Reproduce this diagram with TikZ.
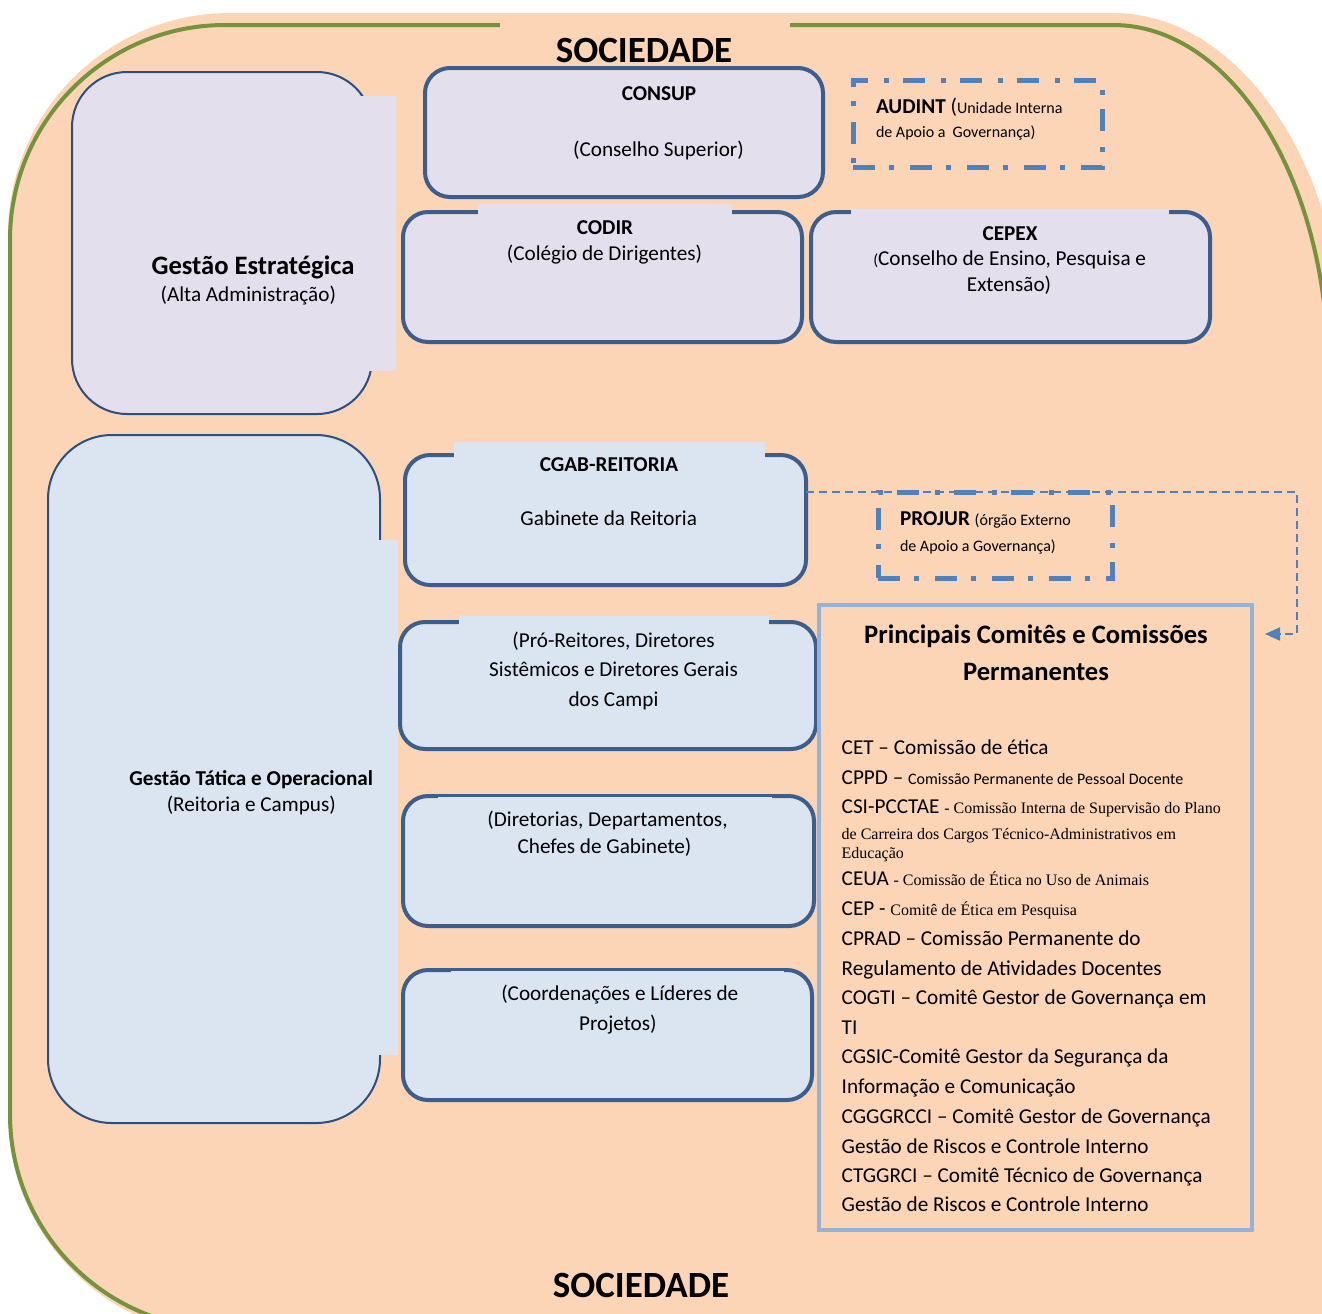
\documentclass[tikz,border=0pt]{standalone}
\usepackage{fontspec}
\setmainfont{Carlito}
\newfontfamily\timesfont{Liberation Serif}
\usetikzlibrary{arrows.meta}

\definecolor{socorange}{HTML}{FBD5B5}
\definecolor{socgreen}{HTML}{76923C}
\definecolor{stratfill}{HTML}{E4DFEC}
\definecolor{opfill}{HTML}{DBE5F1}
\definecolor{thinline}{HTML}{2A4F80}
\definecolor{boxline}{HTML}{3B5E8C}
\definecolor{dashblue}{HTML}{4F81BD}
\definecolor{comline}{HTML}{95B3D7}

\newcommand{\smtxt}[1]{{\fontsize{8}{9.6}\selectfont #1}}
\newcommand{\tmtxt}[1]{{\timesfont\fontsize{8}{9.6}\selectfont #1}}

\begin{document}
\begin{tikzpicture}[x=0.5pt,y=-0.5pt,
  every node/.style={inner sep=0pt,outer sep=0pt,font=\fontsize{10.6}{12.7}\selectfont},
  stratbox/.style={rectangle,draw=thinline,line width=1pt,fill=stratfill,rounded corners=27.5pt},
  opbox/.style={rectangle,draw=thinline,line width=1pt,fill=opfill,rounded corners=32pt},
  govbox/.style={rectangle,draw=boxline,line width=2pt,rounded corners=12.5pt},
  supportbox/.style={rectangle,draw=dashblue,line width=2.5pt,dash pattern=on 11pt off 7pt on 2.5pt off 8pt},
  comitebox/.style={rectangle,draw=comline,line width=2pt},
  boxtitle/.style={anchor=base,font=\fontsize{10.6}{12.7}\selectfont\bfseries},
  boxtext/.style={anchor=base},
  bigtitle/.style={anchor=base,font=\fontsize{13.3}{16}\selectfont\bfseries},
  soctitle/.style={anchor=base,font=\fontsize{18.5}{22}\selectfont\bfseries},
  listitem/.style={anchor=base west},
  linkline/.style={draw=dashblue,line width=1pt,dash pattern=on 4pt off 2.5pt,-{Triangle[length=7.5pt,width=6.5pt]}}]
  \useasboundingbox (0,0) rectangle (1322,1313);
  \clip (0,0) rectangle (1322,1313);
  % sociedade
  \fill[socorange] (1345,1345) -- (1345,360) arc[start angle=0,end angle=90,x radius=116pt,y radius=173.5pt]
    -- (230,13) arc[start angle=90,end angle=180,radius=111pt]
    -- (8,1114) arc[start angle=180,end angle=270,radius=111pt] -- cycle;
  \draw[socgreen,line width=2pt] (1328,1400) -- (1328,370) arc[start angle=0,end angle=90,x radius=107.5pt,y radius=172.5pt]
    -- (225,25) arc[start angle=90,end angle=180,radius=107.5pt]
    -- (10,1114) arc[start angle=180,end angle=270,radius=107.5pt] -- (1400,1329);
  \fill[socorange] (500,15) rectangle (790,66);
  \node[soctitle] (soctop) at (644,62) {SOCIEDADE};
  \node[soctitle] (socbottom) at (641,1297) {SOCIEDADE};

  % gestao estrategica
  \node[stratbox,minimum width=150pt,minimum height=171pt] (estrategica) at (222,243) {};
  \fill[stratfill] (90,96) rectangle (396,371);
  \node[bigtitle] (estrat1) at (253,274.3) {Gestão Estratégica};
  \node[boxtext] (estrat2) at (248.3,301.7) {(Alta Administração)};

  \node[govbox,fill=stratfill,minimum width=199pt,minimum height=64.5pt] (consup) at (624,132.5) {};
  \fill[stratfill] (520,70.5) rectangle (797,185);
  \node[boxtitle] (consup1) at (659,100) {CONSUP};
  \node[boxtext] (consup2) at (658.5,156.7) {(Conselho Superior)};

  \node[govbox,fill=stratfill,minimum width=199.5pt,minimum height=65pt] (codir) at (602.5,277) {};
  \fill[stratfill] (478,204) rectangle (732,330);
  \node[boxtitle] (codir1) at (605,234) {CODIR};
  \node[boxtext] (codir2) at (604.5,260) {(Colégio de Dirigentes)};

  \node[govbox,fill=stratfill,minimum width=199.5pt,minimum height=65pt] (cepex) at (1010.5,277) {};
  \fill[stratfill] (851,209) rectangle (1169,330);
  \node[boxtitle] (cepex1) at (1010,240) {CEPEX};
  \node[boxtext] (cepex2) at (1009.7,265) {\smtxt{(}Conselho de Ensino, Pesquisa e};
  \node[boxtext] (cepex3) at (1009,291) {Extensão)};

  \node[supportbox,minimum width=124.5pt,minimum height=43.5pt] (audint) at (977.5,123.5) {};
  \node[listitem] (audint1) at (876,113.3) {\textbf{AUDINT} (\smtxt{Unidade Interna}};
  \node[listitem] (audint2) at (876,137.7) {\smtxt{de Apoio a~ Governança)}};

  % gestao tatica e operacional
  \node[opbox,minimum width=166pt,minimum height=344pt] (tatica) at (214,779) {};
  \fill[opfill] (60,540) rectangle (398,1055);
  \node[boxtitle] (tatica1) at (251.3,785) {Gestão Tática e Operacional};
  \node[boxtext] (tatica2) at (251.3,811.7) {(Reitoria e Campus)};

  \node[govbox,fill=opfill,minimum width=200.5pt,minimum height=65pt] (cgab) at (605.5,520) {};
  \fill[opfill] (454,442) rectangle (765,570);
  \node[boxtitle] (cgab1) at (609,471.7) {CGAB-REITORIA};
  \node[boxtext] (cgab2) at (608.7,525) {Gabinete da Reitoria};

  \node[govbox,fill=opfill,minimum width=208pt,minimum height=63.5pt] (proreit) at (608,685.5) {};
  \fill[opfill] (459,616) rectangle (769,735);
  \node[boxtext] (proreit1) at (613.5,647.3) {(Pró-Reitores, Diretores};
  \node[boxtext] (proreit2) at (613.5,676) {Sistêmicos e Diretores Gerais};
  \node[boxtext] (proreit3) at (613.5,706.7) {dos Campi};

  \node[govbox,fill=opfill,minimum width=205.5pt,minimum height=65pt] (diretorias) at (608.5,861) {};
  \fill[opfill] (438,797) rectangle (772,910);
  \node[boxtext] (diretorias1) at (607.5,826) {(Diretorias, Departamentos,};
  \node[boxtext] (diretorias2) at (604.5,853) {Chefes de Gabinete)};

  \node[govbox,fill=opfill,minimum width=204.5pt,minimum height=65pt] (coord) at (607.5,1035) {};
  \fill[opfill] (451,971) rectangle (784,1085);
  \node[boxtext] (coord1) at (619.8,1000.7) {(Coordenações e Líderes de};
  \node[boxtext] (coord2) at (617.8,1030.7) {Projetos)};

  \node[supportbox,minimum width=117pt,minimum height=43pt] (projur) at (995,535) {};
  \node[listitem] (projur1) at (900,525) {\textbf{PROJUR} \smtxt{(órgão Externo}};
  \node[listitem] (projur2) at (900,551) {\smtxt{de Apoio a Governança)}};

  % comites e comissoes
  \node[comitebox,minimum width=216.5pt,minimum height=312.5pt] (comites) at (1035.5,917.5) {};
  \node[bigtitle] (comites1) at (1036,643.3) {Principais Comitês e Comissões};
  \node[bigtitle] (comites2) at (1036,680) {Permanentes};
  \foreach \yb/\txt [count=\i] in {
    754.3/{CET – Comissão de ética},
    784/{CPPD – \smtxt{Comissão Permanente de Pessoal Docente}},
    813.3/{CSI-PCCTAE \tmtxt{- Comissão Interna de Supervisão do Plano}},
    839/{\tmtxt{de Carreira dos Cargos Técnico-Administrativos em}},
    858.3/{\tmtxt{Educação}},
    885.7/{CEUA \tmtxt{- Comissão de Ética no Uso de Animais}},
    915/{CEP - \tmtxt{Comitê de Ética em Pesquisa}},
    945/{CPRAD – Comissão Permanente do},
    975/{Regulamento de Atividades Docentes},
    1004.3/{COGTI – Comitê Gestor de Governança em},
    1034/{TI},
    1063.3/{CGSIC-Comitê Gestor da Segurança da},
    1093.3/{Informação e Comunicação},
    1123.3/{CGGGRCCI – Comitê Gestor de Governança},
    1153.3/{Gestão de Riscos e Controle Interno},
    1182.7/{CTGGRCI – Comitê Técnico de Governança},
    1211.7/{Gestão de Riscos e Controle Interno}}
    \node[listitem] (item\i) at (841.7,\yb) {\txt};

  \coordinate (turn) at (1297,634);
  \coordinate (tip) at (1265,634);
  \draw[linkline] (cgab.east |- projur.north) -| (turn) -- (tip);
\end{tikzpicture}
\end{document}
